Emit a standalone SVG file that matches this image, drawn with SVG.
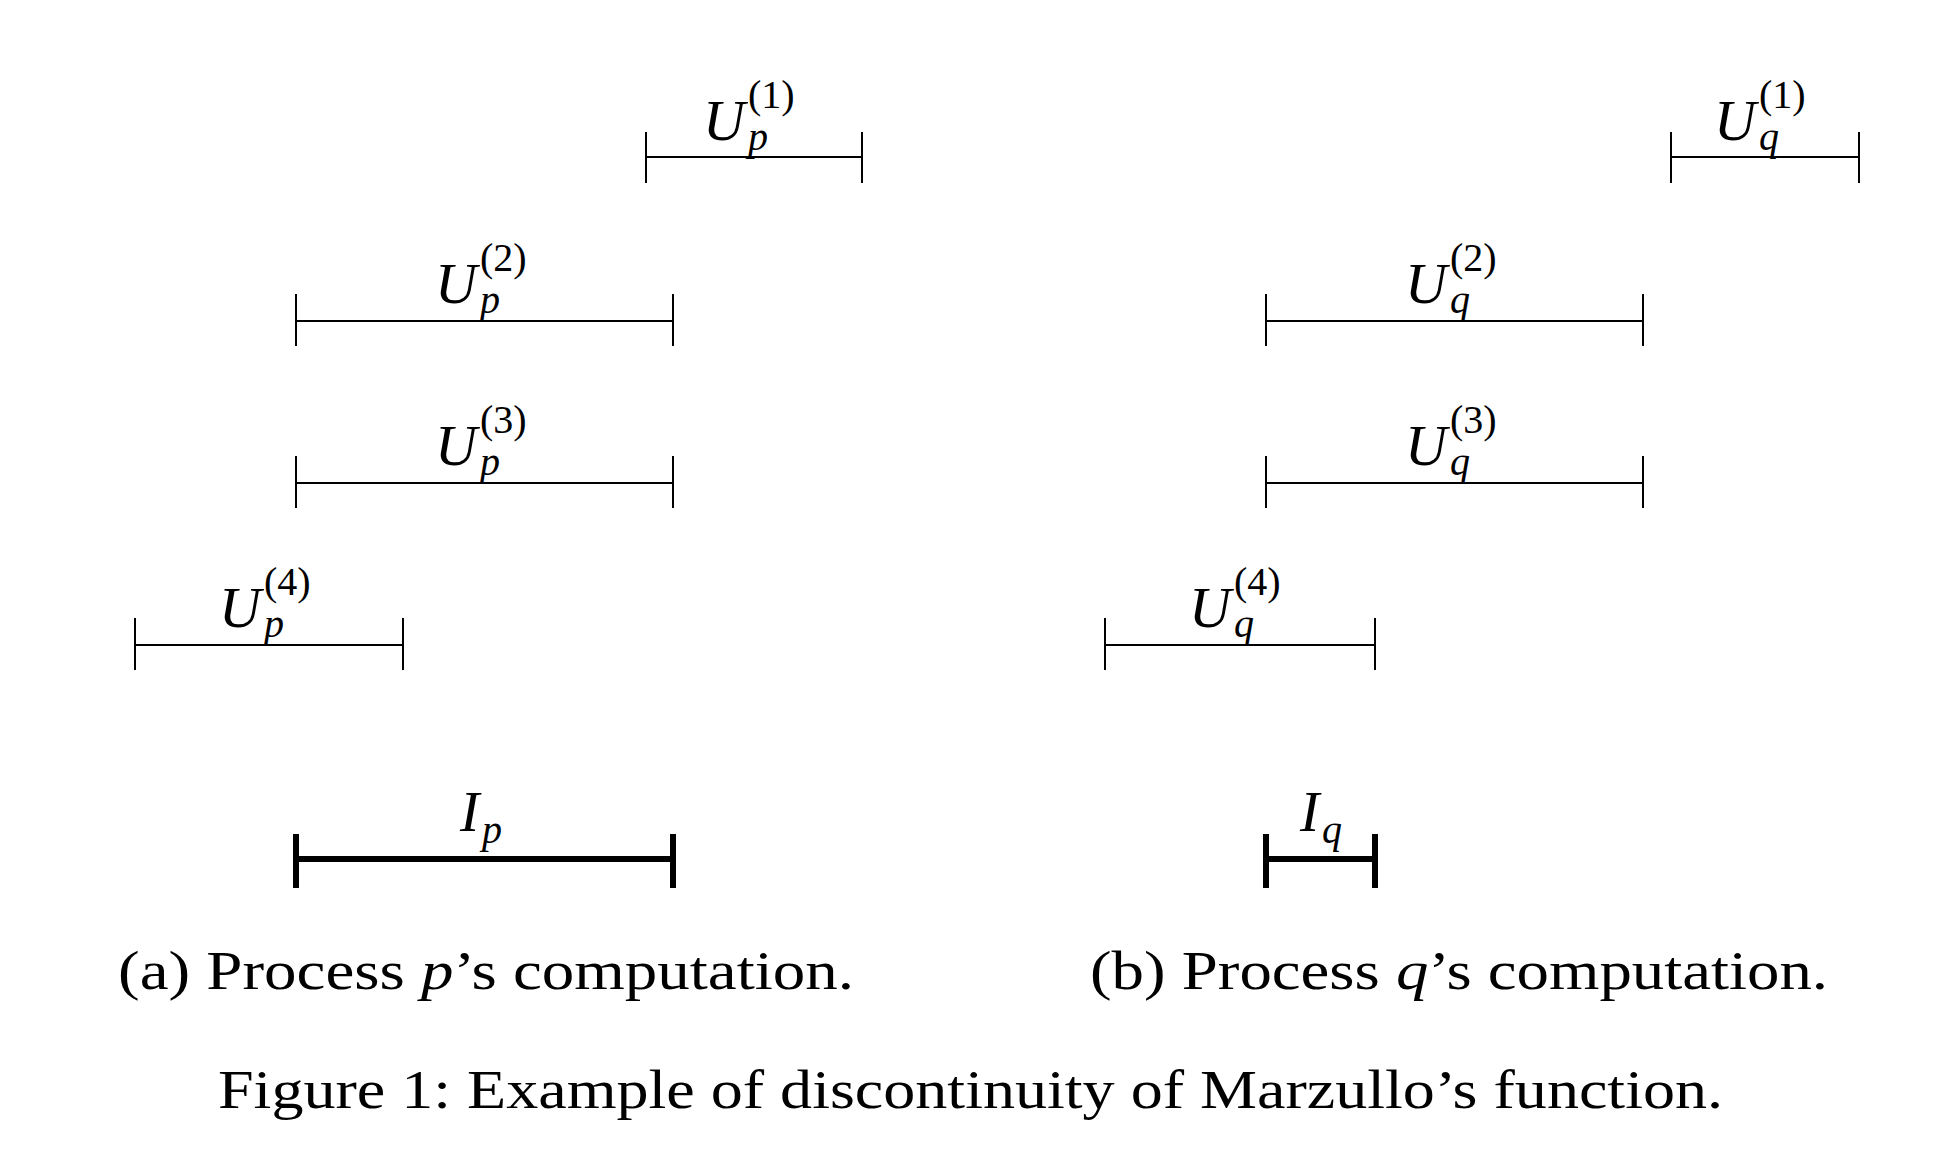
<svg xmlns="http://www.w3.org/2000/svg" width="1946" height="1166" viewBox="0 0 1946 1166">
<style>
.l{stroke:#000;stroke-width:2;fill:none}
.t{stroke:#000;stroke-width:6;fill:none}
.m{font-family:"Liberation Serif",serif;font-style:italic;font-size:58px}
.s{font-family:"Liberation Serif",serif;font-style:italic;font-size:40px}
.n{font-family:"Liberation Serif",serif;font-size:40px}
.c{font-family:"Liberation Serif",serif;font-size:54px}
</style>
<rect width="1946" height="1166" fill="#fff"/>
<g id="connectors">
<path class="l" d="M646 157H862M646 132V183M862 132V183"/>
<path class="l" d="M296 321H673M296 294V346M673 294V346"/>
<path class="l" d="M296 483H673M296 456V508M673 456V508"/>
<path class="l" d="M135 645H403M135 618V670M403 618V670"/>
<path class="l" d="M1671 157H1859M1671 132V183M1859 132V183"/>
<path class="l" d="M1266 321H1643M1266 294V346M1643 294V346"/>
<path class="l" d="M1266 483H1643M1266 456V508M1643 456V508"/>
<path class="l" d="M1105 645H1375M1105 618V670M1375 618V670"/>
<path class="t" d="M296 859H673M296 834V888M673 834V888"/>
<path class="t" d="M1266 859H1375M1266 834V888M1375 834V888"/>
</g>
<g id="Up1"><text class="m" x="703" y="140">U</text><text class="s" x="748" y="150">p</text><text class="n" x="748" y="108">(1)</text></g>
<g id="Up2"><text class="m" x="435" y="303">U</text><text class="s" x="480" y="313">p</text><text class="n" x="480" y="271">(2)</text></g>
<g id="Up3"><text class="m" x="435" y="465">U</text><text class="s" x="480" y="475">p</text><text class="n" x="480" y="433">(3)</text></g>
<g id="Up4"><text class="m" x="219" y="627">U</text><text class="s" x="264" y="637">p</text><text class="n" x="264" y="595">(4)</text></g>
<g id="Uq1"><text class="m" x="1714" y="140">U</text><text class="s" x="1759" y="150">q</text><text class="n" x="1759" y="108">(1)</text></g>
<g id="Uq2"><text class="m" x="1405" y="303">U</text><text class="s" x="1450" y="313">q</text><text class="n" x="1450" y="271">(2)</text></g>
<g id="Uq3"><text class="m" x="1405" y="465">U</text><text class="s" x="1450" y="475">q</text><text class="n" x="1450" y="433">(3)</text></g>
<g id="Uq4"><text class="m" x="1189" y="627">U</text><text class="s" x="1234" y="637">q</text><text class="n" x="1234" y="595">(4)</text></g>
<g id="Ip"><text class="m" x="460" y="831">I</text><text class="s" x="482" y="843">p</text></g>
<g id="Iq"><text class="m" x="1300" y="831">I</text><text class="s" x="1322" y="843">q</text></g>
<g id="captions">
<text class="c" x="118" y="989" textLength="736" lengthAdjust="spacingAndGlyphs">(a) Process <tspan font-style="italic">p</tspan>’s computation.</text>
<text class="c" x="1090" y="989" textLength="738" lengthAdjust="spacingAndGlyphs">(b) Process <tspan font-style="italic">q</tspan>’s computation.</text>
<text class="c" x="218" y="1108" textLength="1505" lengthAdjust="spacingAndGlyphs">Figure 1: Example of discontinuity of Marzullo’s function.</text>
</g>
</svg>
